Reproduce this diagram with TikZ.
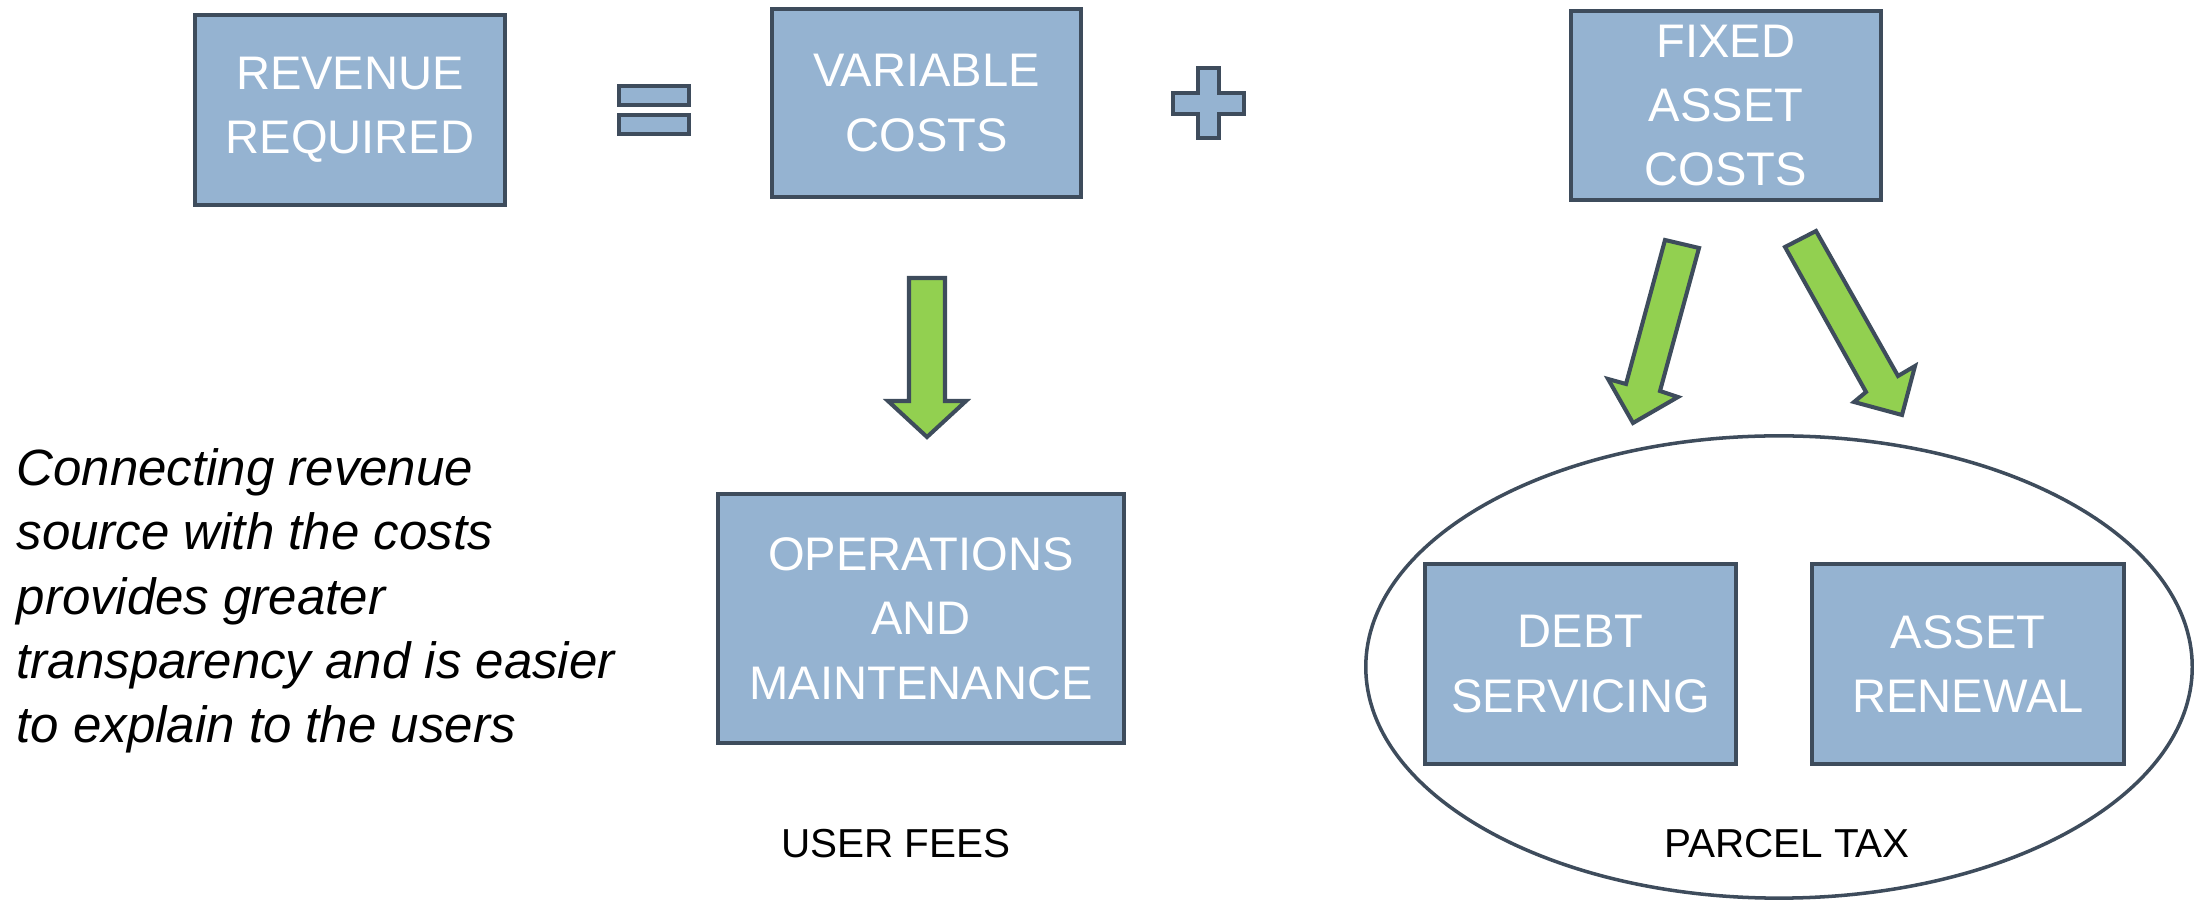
\documentclass[tikz,border=0pt]{standalone}
\usepackage{fontspec}
\setmainfont{Liberation Sans}
\usetikzlibrary{shapes.geometric}
\definecolor{boxfill}{HTML}{95B3D1}
\definecolor{boxline}{HTML}{3E4C5C}
\definecolor{arrowgreen}{HTML}{92D050}
\tikzset{
  box/.style={draw=boxline, fill=boxfill, line width=1.15pt, text=white,
    align=center, inner sep=0pt,
    font=\fontsize{13.4}{18.3}\selectfont},
  symb/.style={draw=boxline, fill=boxfill, line width=1.15pt},
  blockarrow/.style={draw=boxline, fill=arrowgreen, line width=1.15pt, line join=miter},
  label/.style={text=black, inner sep=0pt, font=\fontsize{11.5}{14}\selectfont},
  note/.style={text=black, inner sep=0pt, align=left,
    font=\fontsize{14.5}{18.28}\selectfont\itshape}
}
\begin{document}
\begin{tikzpicture}[x=0.01cm, y=-0.01cm]
\useasboundingbox (0,0) rectangle (2194,901);

% boxes
\node[box, minimum width=3.10cm, minimum height=1.90cm] (rev) at (350,110) {REVENUE\\REQUIRED};
\node[box, minimum width=3.09cm, minimum height=1.88cm] (var) at (926.5,103) {VARIABLE\\COSTS};
\node[box, minimum width=3.10cm, minimum height=1.89cm] (fix) at (1726,105.5) {FIXED\\ASSET\\COSTS};
\node[box, minimum width=4.06cm, minimum height=2.49cm] (ops) at (921,618.5) {OPERATIONS\\AND\\MAINTENANCE};

% ellipse
\node[draw=boxline, line width=1pt, ellipse, minimum width=8.26cm, minimum height=4.62cm, inner sep=0pt] (parcel) at (1779,667) {};

\node[box, minimum width=3.11cm, minimum height=2.00cm] (debt) at (1580.5,664) {DEBT\\SERVICING};
\node[box, minimum width=3.12cm, minimum height=2.00cm] (asset) at (1968,664) {ASSET\\RENEWAL};

% equals sign
\draw[symb] (619,86) rectangle (689,105);
\draw[symb] (619,115) rectangle (689,134);

% plus sign
\draw[symb] (1198,68) -- (1219,68) -- (1219,93) -- (1244,93) -- (1244,114)
  -- (1219,114) -- (1219,138) -- (1198,138) -- (1198,114) -- (1173,114)
  -- (1173,93) -- (1198,93) -- cycle;

% down arrow
\draw[blockarrow] (909,278) -- (945,278) -- (945,401) -- (966,401) -- (927,437)
  -- (888,401) -- (909,401) -- cycle;

% left diagonal arrow
\draw[blockarrow] (1665,240) -- (1699,248) -- (1660,391) -- (1678,397) -- (1633,423)
  -- (1608,379) -- (1626,384) -- cycle;

% right diagonal arrow
\draw[blockarrow] (1785,247) -- (1816,231) -- (1898,376) -- (1915,366) -- (1902,415)
  -- (1854,402) -- (1866,392) -- cycle;

% labels
\node[label, anchor=base] (userfees) at (896,858) {USER FEES};
\node[label, anchor=base] (parceltax) at (1787,858) {PARCEL TAX};

% note
\node[note, anchor=north west] (note) at (16,448) {Connecting revenue\\source with the costs\\provides greater\\transparency and is easier\\to explain to the users};
\end{tikzpicture}
\end{document}
